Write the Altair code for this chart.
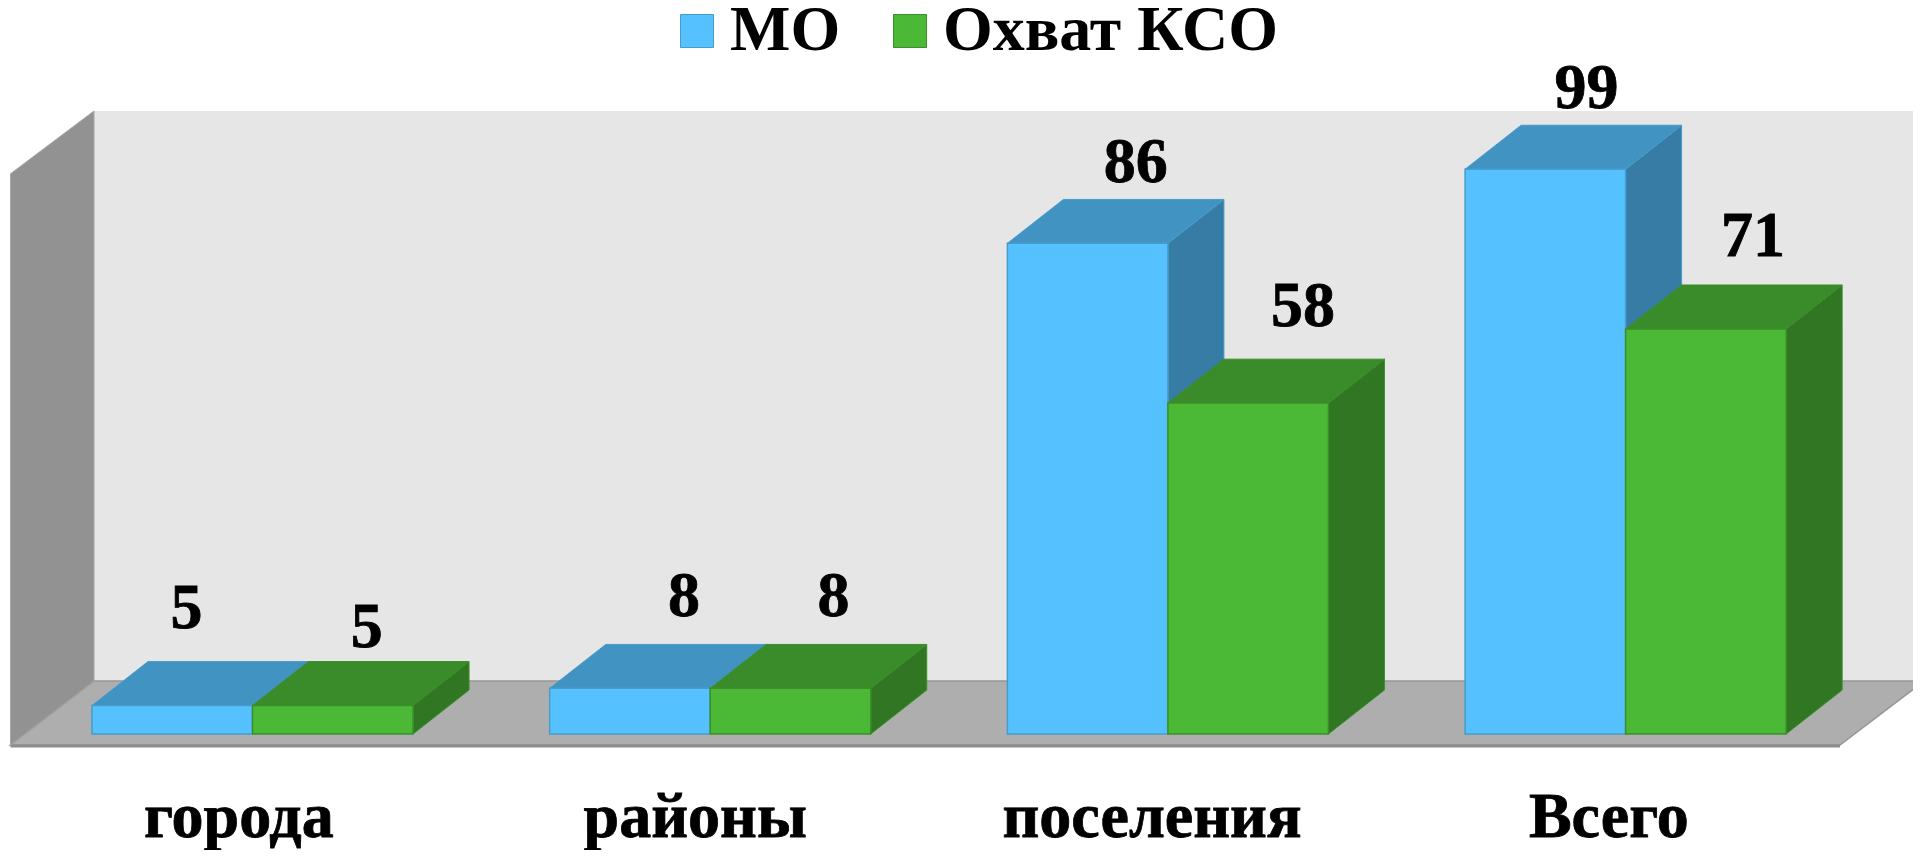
import altair as alt
import pandas as pd

categories = ["города", "районы", "поселения", "Всего"]
series_names = ["МО", "Охват КСО"]
mo_values = [5, 8, 86, 99]
kso_values = [5, 8, 58, 71]

# label placement, in scale units (x: category spacing, y: value units)
mo_label_dx = [0.031, 0.118, 0.105, 0.090]
mo_label_dy = [13.6, 12.7, 10.7, 10.7]
kso_label_dx = [0.074, 0.094, 0.120, 0.103]
kso_label_dy = [10.3, 12.7, 13.5, 12.7]
cat_label_x = [0.321, 1.318, 2.316, 3.314]
CAT_LABEL_Y = -18.0

BAR_W = 0.3507
DX = 0.1224
DY = 7.7
WALL_FX, WALL_BX = -0.178, 0.0044
FLOOR_FR, FLOOR_BR = 3.819, 4.003
WALL_FT, WALL_BT = 98.2, 109.2
FLOOR_F, FLOOR_B = -1.93, 9.29

FONT = "Liberation Serif"
BLUE = ["#55C2FF", "#4193C1", "#367CA5", "#479CCB"]
GREEN = ["#4BB936", "#3A8B29", "#307623", "#3B8F2B"]

xs = alt.Scale(domain=[-0.1835, 3.9786], nice=False, zero=False)
ys = alt.Scale(domain=[-20.33, 127.25], nice=False, zero=False)
X = lambda f="x": alt.X(f"{f}:Q", scale=xs, axis=None)
Y = lambda f="y": alt.Y(f"{f}:Q", scale=ys, axis=None, stack=None)

# background
wall = alt.Chart(pd.DataFrame({"x": [WALL_BX], "x2": [FLOOR_BR + 0.1], "y": [FLOOR_B], "y2": [WALL_BT]})).mark_rect(
    color="#E6E6E6", clip=True).encode(x=X(), x2="x2:Q", y=Y(), y2="y2:Q")
floor = alt.Chart(pd.DataFrame({"y": [FLOOR_F, FLOOR_B], "x": [WALL_FX, WALL_BX], "x2": [FLOOR_FR, FLOOR_BR]})).mark_area(
    orient="horizontal", color="#AEAEAE", stroke="#969696", strokeWidth=1.5, clip=True
).encode(y=Y(), x=X(), x2="x2:Q")
floor_edge = alt.Chart(pd.DataFrame({"x": [WALL_FX, FLOOR_FR], "y": [FLOOR_F - 0.15, FLOOR_F - 0.15]})).mark_line(
    color="#8C8C8C", strokeWidth=3).encode(x=X(), y=Y())
left = alt.Chart(pd.DataFrame({"x": [WALL_FX, WALL_BX], "y": [FLOOR_F, FLOOR_B], "y2": [WALL_FT, WALL_BT]})).mark_area(
    orient="vertical", color="#929292", stroke="#A6A6A6", strokeWidth=1
).encode(x=X(), y=Y(), y2="y2:Q")

layers = [wall, floor, floor_edge, left]
col_scale = alt.Scale(domain=series_names, range=[BLUE[0], GREEN[0]])
stroke_scale = alt.Scale(domain=series_names, range=[BLUE[3], GREEN[3]])
legend = alt.Legend(
    title=None, orient="none", legendX=657, legendY=-9, direction="horizontal",
    symbolType="square", symbolSize=1089, symbolStrokeWidth=1, labelFont=FONT, labelFontWeight="bold",
    labelFontSize=64, labelColor="#000000", labelOffset=1, columnPadding=37, padding=0, labelLimit=600,
)

for idx, (name, vals, cols, off) in enumerate(zip(series_names, [mo_values, kso_values], [BLUE, GREEN], [0, BAR_W])):
    side, top, front = [], [], []
    for i, v in enumerate(vals):
        a = i + off
        b = a + BAR_W
        side += [dict(id=i, x=b, y=0, y2=v), dict(id=i, x=b + DX, y=DY, y2=v + DY)]
        top += [dict(id=i, y=v, x=a, x2=b), dict(id=i, y=v + DY, x=a + DX, x2=b + DX)]
        front.append(dict(x=a, x2=b, y=0, y2=v, series=name))
    layers.append(alt.Chart(pd.DataFrame(side)).mark_area(orient="vertical", color=cols[2], stroke=cols[3], strokeWidth=1).encode(
        x=X(), y=Y(), y2="y2:Q", detail="id:N"))
    layers.append(alt.Chart(pd.DataFrame(top)).mark_area(orient="horizontal", color=cols[1], stroke=cols[3], strokeWidth=1).encode(
        y=Y(), x=X(), x2="x2:Q", detail="id:N"))
    layers.append(alt.Chart(pd.DataFrame(front)).mark_rect(strokeWidth=1.5).encode(
        x=X(), x2="x2:Q", y=Y(), y2="y2:Q",
        color=alt.Color("series:N", scale=col_scale, legend=legend),
        stroke=alt.Stroke("series:N", scale=stroke_scale, legend=legend)))

labels = []
for i in range(len(categories)):
    labels.append(dict(x=i + BAR_W / 2 + mo_label_dx[i], y=mo_values[i] + mo_label_dy[i], t=str(mo_values[i])))
    labels.append(dict(x=i + BAR_W * 1.5 + kso_label_dx[i], y=kso_values[i] + kso_label_dy[i], t=str(kso_values[i])))
value_text = alt.Chart(pd.DataFrame(labels)).mark_text(
    font=FONT, fontWeight="bold", fontSize=64, color="#000000", align="center", baseline="alphabetic",
    stroke="#000000", strokeWidth=0.8,
).encode(x=X(), y=Y(), text="t:N")
cat_text = alt.Chart(pd.DataFrame({"x": cat_label_x, "y": [CAT_LABEL_Y] * 4, "t": categories})).mark_text(
    font=FONT, fontWeight="bold", fontSize=64, color="#000000", align="center", baseline="alphabetic",
    stroke="#000000", strokeWidth=0.8,
).encode(x=X(), y=Y(), text="t:N")
layers += [value_text, cat_text]

chart = alt.layer(*layers).resolve_scale(color="shared").properties(
    width=1905, height=842, padding=0, background="#FFFFFF",
    autosize=alt.AutoSizeParams(type="none"),
).configure_view(stroke=None)

chart.save("out.html", embed_options={"renderer": "svg", "actions": False})
